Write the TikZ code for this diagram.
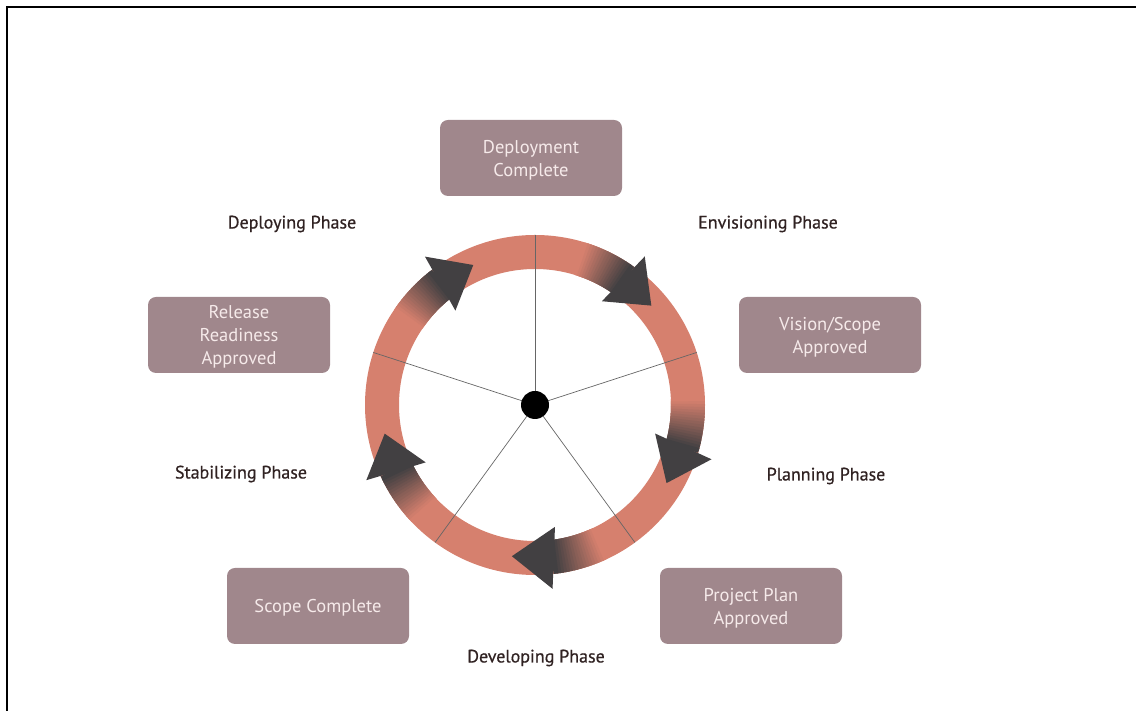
\documentclass[tikz,border=0pt]{standalone}
\usepackage{fontspec}
\setmainfont{PT Sans}
\newfontfamily\labelfont[FakeBold=0.6]{PT Sans}
\usetikzlibrary{calc}
\definecolor{ringc}{RGB}{214,128,110}
\definecolor{arrowc}{RGB}{66,64,66}
\definecolor{boxc}{RGB}{160,135,140}
\definecolor{boxtext}{RGB}{246,234,234}
\definecolor{labelc}{RGB}{48,34,34}

\begin{document}
\begin{tikzpicture}[x=1pt,y=1pt,
  phasebox/.style={fill=boxc,rounded corners=8pt,minimum width=182pt,minimum height=76pt,
    inner sep=0pt,align=center,text depth=0pt,text=boxtext,font=\fontsize{18.5}{23}\selectfont},
  phaselabel/.style={text=labelc,font=\labelfont\fontsize{18}{20}\selectfont},
  spoke/.style={draw=black!60,line width=0.7pt}]
  \useasboundingbox (0,0) rectangle (1136,711);
  % frame
  \draw[line width=2pt] (6.5,0) -- (6.5,703.5) -- (1136,703.5);

  % ring
  \coordinate (hub) at (535,306);
  \draw[ringc,line width=34pt] (hub) circle[radius=153];

  % arrow tails
  \foreach \ang/\tip in {55/40.5,-15.6/-30.7,-83/-98.7,205.5/190.8,128/113.8}{
    \foreach \k in {0,...,17}{
      \pgfmathtruncatemacro\pct{\k*100/17}
      \draw[arrowc!\pct!ringc,line width=34pt]
        (hub) ++(\ang+18-\k:153) arc[start angle=\ang+18-\k,delta angle=-1.8,radius=153];
    }
  }

  % spokes
  \foreach \s in {90,18,-54,-126,162}
    \draw[spoke] (hub) -- ++(\s:170);

  % arrow heads
  \foreach \ang/\tip in {55/40.5,-15.6/-30.7,-83/-98.7,205.5/190.8,128/113.8}{
    \coordinate (hb) at ($(hub)+(\ang:154)$);
    \coordinate (ht) at ($(hub)+(\tip:153)$);
    \fill[arrowc] ($(hb)!31pt!90:(ht)$) -- (ht) -- ($(hb)!31pt!-90:(ht)$) -- cycle;
  }

  \fill[black] (hub) circle[radius=14];

  % milestones
  \node[phasebox] (deploy) at (531,553) {Deployment\\Complete};
  \node[phasebox] (vision) at (830,376) {Vision/Scope\\Approved};
  \node[phasebox] (release) at (239,376) {Release\\Readiness\\Approved};
  \node[phasebox] (plan) at (751,105) {Project Plan\\Approved};
  \node[phasebox] (scope) at (318,105) {Scope Complete};

  % phases
  \node[phaselabel] (deploying) at (292,487) {Deploying Phase};
  \node[phaselabel] (envisioning) at (768,487) {Envisioning Phase};
  \node[phaselabel] (planning) at (826,235) {Planning Phase};
  \node[phaselabel] (stabilizing) at (241,237) {Stabilizing Phase};
  \node[phaselabel] (developing) at (536,53) {Developing Phase};
\end{tikzpicture}
\end{document}
